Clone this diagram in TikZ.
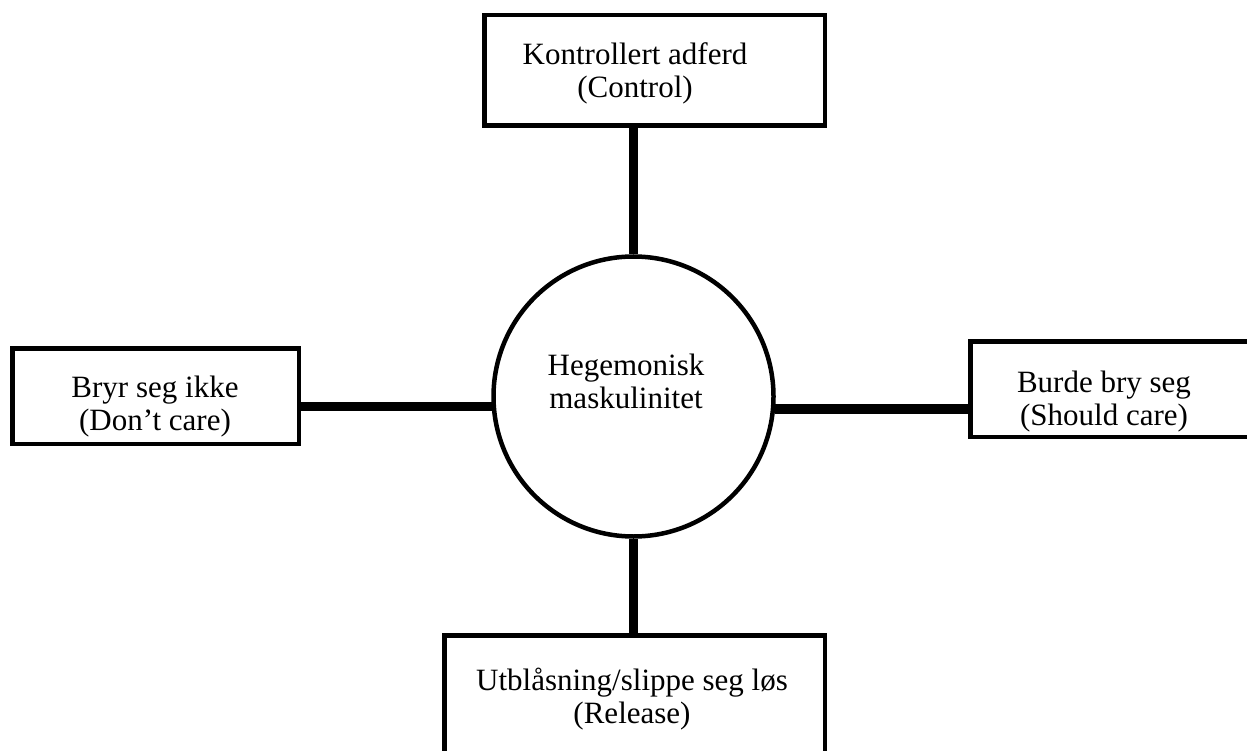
\documentclass[tikz,border=0pt]{standalone}
\usepackage{fontspec}
\setmainfont{Liberation Serif}
\usepackage{tikz}
\newcommand{\boxfont}{\fontsize{31}{33}\selectfont}
\tikzset{
  box/.style  = {rectangle, draw=black, line width=4.5pt, fill=white,
                 inner sep=0pt},
  hub/.style  = {circle, draw=black, line width=4.5pt, fill=white,
                 inner sep=0pt, minimum size=280pt},
  txt/.style  = {align=center, font=\boxfont, inner sep=0pt},
  link/.style = {draw=black, line width=9.5pt},
}

\begin{document}
\begin{tikzpicture}[x=1pt,y=-1pt]
  \path[use as bounding box] (0,0) rectangle (1247,751);
  \clip (0,0) rectangle (1247,751);
  % shapes
  \node[box, minimum width=340.5pt, minimum height=110.5pt] (ctl) at (654.5,70.5) {};
  \node[box, minimum width=286.5pt, minimum height=95.5pt] (brk) at (155.5,396) {};
  \node[box, minimum width=292pt, minimum height=95.5pt] (shc) at (1116.25,389) {};
  \node[box, minimum width=380.5pt, minimum height=150pt] (rel) at (634.5,710.25) {};
  \node[hub] (hm) at (633.5,396.5) {};
  % texts
  \node[txt] (ctltxt) at (635,73.7) {Kontrollert adferd\\(Control)};
  \node[txt] (brktxt) at (155,406.7) {Bryr seg ikke\\(Don’t care)};
  \node[txt] (shctxt) at (1104,401.7) {Burde bry seg\\(Should care)};
  \node[txt] (reltxt) at (632,698.7) {Utblåsning/slippe seg løs\\(Release)};
  \node[txt] (hmtxt) at (626,380.9) {Hegemonisk\\maskulinitet};
  % connectors
  \draw[link] (ctl.south -| hm.north) -- (hm.north);
  \draw[link] (hm.south) -- (hm.south |- rel.north);
  \draw[link] (brk.east |- hm.184.7) -- (hm.184.7);
  \draw[link] (hm.355.3) -- (hm.355.3 -| shc.west);
\end{tikzpicture}
\end{document}
